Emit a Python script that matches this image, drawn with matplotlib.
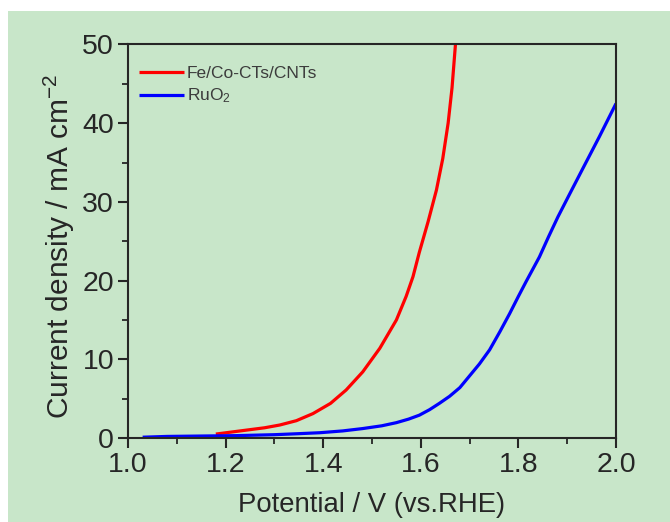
import matplotlib
matplotlib.use("Agg")
import matplotlib.pyplot as plt
from matplotlib.patches import Rectangle
from matplotlib.ticker import MultipleLocator

plt.rcParams['font.family'] = ['Liberation Sans', 'DejaVu Sans']
plt.rcParams['mathtext.fontset'] = 'custom'
plt.rcParams['mathtext.rm'] = 'Liberation Sans'
plt.rcParams['mathtext.it'] = 'Liberation Sans:italic'
plt.rcParams['mathtext.bf'] = 'Liberation Sans:bold'

# LSV polarization curves (potential in V vs. RHE, current density in mA cm^-2)
fe_co_potential = [1.18, 1.23, 1.28, 1.311, 1.345, 1.379, 1.415, 1.447, 1.481,
                   1.516, 1.55, 1.57, 1.584, 1.597, 1.615, 1.632, 1.645, 1.656,
                   1.664, 1.671]
fe_co_current = [0.5, 0.9, 1.3, 1.65, 2.2, 3.1, 4.4, 6.1, 8.4,
                 11.4, 15.0, 18.0, 20.5, 23.6, 27.5, 31.5, 35.5, 40.0,
                 44.5, 50.0]

ruo2_potential = [1.03, 1.08, 1.15, 1.22, 1.30, 1.35, 1.393, 1.44, 1.481, 1.52,
                  1.55, 1.575, 1.597, 1.618, 1.638, 1.659, 1.68, 1.696, 1.72,
                  1.741, 1.762, 1.782, 1.80, 1.816, 1.843, 1.862, 1.881, 1.905,
                  1.93, 1.966, 2.0]
ruo2_current = [0.1, 0.2, 0.25, 0.3, 0.42, 0.55, 0.67, 0.9, 1.2, 1.55,
                1.95, 2.4, 2.9, 3.6, 4.4, 5.3, 6.4, 7.6, 9.4,
                11.2, 13.5, 15.8, 18.0, 19.9, 23.0, 25.6, 28.1, 31.0,
                34.0, 38.3, 42.5]

series_labels = ['Fe/Co-CTs/CNTs', 'RuO$_2$']
series_colors = ['#ff0000', '#0000ff']

x_ticks = [1.0, 1.2, 1.4, 1.6, 1.8, 2.0]
y_ticks = [0, 10, 20, 30, 40, 50]

bg = '#c8e6c9'
ink = '#262626'

fig = plt.figure(figsize=(6.70, 5.22), dpi=100, facecolor='white')
fig.patches.append(Rectangle((8 / 670, 0), 1 - 8 / 670, (522 - 11) / 522,
                             transform=fig.transFigure, facecolor=bg,
                             edgecolor='none', zorder=-10))

ax = fig.add_axes([128 / 670, (522 - 438) / 522, (616 - 128) / 670, (438 - 44.5) / 522])
ax.set_zorder(5)
ax.set_facecolor(bg)

ax.plot(fe_co_potential, fe_co_current, color=series_colors[0], lw=2.3,
        label=series_labels[0], solid_capstyle='butt')
ax.plot(ruo2_potential, ruo2_current, color=series_colors[1], lw=2.3,
        label=series_labels[1], solid_capstyle='butt')

ax.set_xlim(1.0, 2.0)
ax.set_ylim(0, 50)
ax.set_xticks(x_ticks)
ax.set_xticklabels([f'{v:.1f}' for v in x_ticks])
ax.set_yticks(y_ticks)
ax.xaxis.set_minor_locator(MultipleLocator(0.1))
ax.yaxis.set_minor_locator(MultipleLocator(5))

for s in ax.spines.values():
    s.set_color(ink)
    s.set_linewidth(1.5)

ax.tick_params(which='major', direction='out', length=7, width=1.5, color=ink,
               labelsize=20.5, labelcolor=ink, pad=3, top=False, right=False)
ax.tick_params(which='minor', direction='out', length=4, width=1.3, color=ink,
               top=False, right=False)

ax.set_xlabel('Potential / V (vs.RHE)', fontsize=19.8, color=ink)
ax.set_ylabel('Current density / mA cm$^{-2}$', fontsize=21.5, color=ink)
ax.xaxis.set_label_coords(0.5, (438 - 492) / 393.5)
ax.yaxis.set_label_coords((77 - 128) / 488, (438 - 246.5) / 393.5)

leg = ax.legend(loc='upper left', bbox_to_anchor=(-0.006, 0.98), frameon=False,
                fontsize=12.5, handlelength=2.6, handletextpad=0.15,
                labelspacing=0.3, borderaxespad=0.4)
for t in leg.get_texts():
    t.set_color('#3c3c3c')

fig.savefig('out.png', dpi=100, facecolor='white')
